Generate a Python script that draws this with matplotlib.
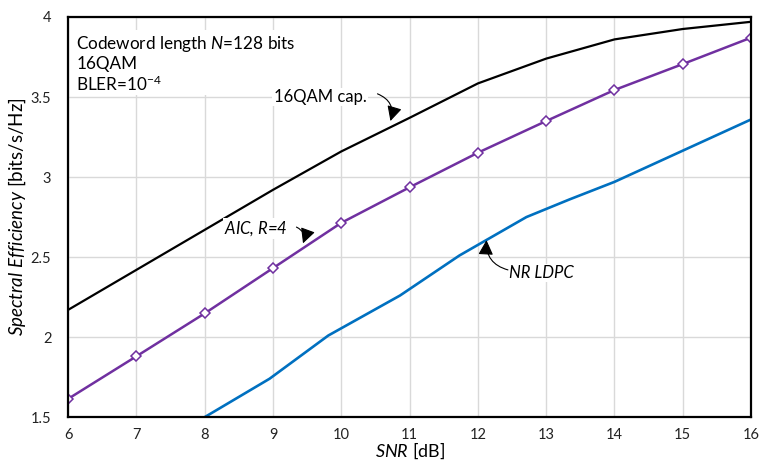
import matplotlib.pyplot as plt

# -----------------------------
# Data
# -----------------------------
snr = [6, 7, 8, 9, 10, 11, 12, 13, 14, 15, 16]
cap_16qam = [2.17, 2.42, 2.67, 2.92, 3.16, 3.37, 3.585, 3.74, 3.86, 3.925, 3.97]
aic_r4 = [1.614, 1.88, 2.148, 2.431, 2.714, 2.936, 3.152, 3.35, 3.544, 3.706, 3.871]

ldpc_snr = [8, 8.95, 9.81, 10.86, 11.73, 12.71, 13.34, 14.0, 15.0, 16.0]
ldpc_se = [1.5, 1.74, 2.01, 2.26, 2.51, 2.75, 2.86, 2.97, 3.165, 3.36]

x_ticks = [6, 7, 8, 9, 10, 11, 12, 13, 14, 15, 16]
y_ticks = [1.5, 2, 2.5, 3, 3.5, 4]
y_ticklabels = ['1.5', '2', '2.5', '3', '3.5', '4']

# -----------------------------
# Style
# -----------------------------
plt.rcParams['font.family'] = ['Lato', 'DejaVu Sans']
plt.rcParams['mathtext.fontset'] = 'custom'
plt.rcParams['mathtext.rm'] = 'Lato'
plt.rcParams['mathtext.it'] = 'Lato:italic'

fig = plt.figure(figsize=(7.61, 4.63), dpi=100)
ax = fig.add_axes([0.0894, 0.099, 0.8976, 0.8643])

ax.plot(snr, cap_16qam, color='black', lw=1.6, zorder=3)
ax.plot(snr, aic_r4, color='#7030A0', lw=1.8, marker='D', markersize=5,
        markerfacecolor='white', markeredgecolor='#7030A0', markeredgewidth=1.1, zorder=4)
ax.plot(ldpc_snr, ldpc_se, color='#0070C0', lw=1.9, zorder=3)

ax.set_xlim(6, 16)
ax.set_ylim(1.5, 4)
ax.set_xticks(x_ticks)
ax.set_yticks(y_ticks)
ax.set_yticklabels(y_ticklabels)
ax.grid(True, color='#D9D9D9', lw=1.0, zorder=0)
ax.set_axisbelow(True)
ax.tick_params(axis='both', length=0, labelsize=10.5, colors='#222222')
ax.tick_params(axis='x', pad=8)
ax.tick_params(axis='y', pad=12)
for sp in ax.spines.values():
    sp.set_linewidth(1.6)
    sp.set_color('black')
    sp.set_zorder(5)

ax.set_xlabel('$SNR$ [dB]', fontsize=13, labelpad=-1)
ax.set_ylabel('$Spectral\\ Efficiency$ [bits/s/Hz]', fontsize=13.5, labelpad=2)

# -----------------------------
# Annotations
# -----------------------------
box = dict(facecolor='white', edgecolor='none', pad=1.0)
arrow = dict(arrowstyle='-|>,head_length=0.75,head_width=0.38', color='black',
             lw=0.8, mutation_scale=12, shrinkA=0, shrinkB=0)

ax.text(6.12, 3.895, 'Codeword length $N$=128 bits\n16QAM\nBLER=10$^{-4}$',
        fontsize=12.3, va='top', ha='left', linespacing=1.15, bbox=box, zorder=6)

ax.text(10.37, 3.5, '16QAM cap.', fontsize=12, va='center', ha='right', bbox=box, zorder=6)
ax.annotate('', xy=(10.72, 3.35), xytext=(10.53, 3.52),
            arrowprops=dict(arrow, connectionstyle='arc3,rad=-0.45'), zorder=6)

ax.text(9.22, 2.68, 'AIC, $R$=4', fontsize=12, style='italic', va='center', ha='right',
        bbox=box, zorder=6)
ax.annotate('', xy=(9.44, 2.586), xytext=(9.344, 2.6875),
            arrowprops=dict(arrow, connectionstyle='arc3,rad=-0.45'), zorder=6)

ax.text(12.45, 2.4, 'NR LDPC', fontsize=12, style='italic', va='center', ha='left',
        bbox=box, zorder=6)
ax.annotate('', xy=(12.126, 2.606), xytext=(12.44, 2.42),
            arrowprops=dict(arrow, connectionstyle='arc3,rad=-0.4'), zorder=6)

fig.savefig('out.png', dpi=100)
